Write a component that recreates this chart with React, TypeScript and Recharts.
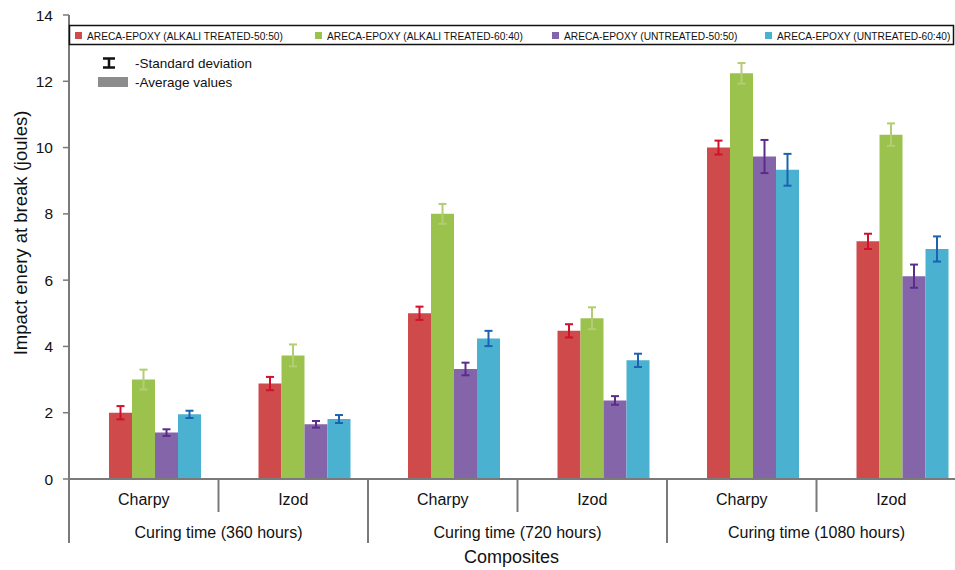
import React from 'react';
import { BarChart, Bar, XAxis, YAxis, ErrorBar, Label } from 'recharts';

// impact tests, in order along the x axis
const TESTS = ['Charpy', 'Izod', 'Charpy', 'Izod', 'Charpy', 'Izod'];
const CURING_TIMES = ['Curing time (360 hours)', 'Curing time (720 hours)', 'Curing time (1080 hours)'];

// mean impact energy (J)
const ALKALI_50 = [2.0, 2.88, 5.0, 4.47, 10.0, 7.17];
const ALKALI_60 = [3.0, 3.73, 8.0, 4.85, 12.24, 10.39];
const UNTREATED_50 = [1.4, 1.65, 3.32, 2.37, 9.73, 6.12];
const UNTREATED_60 = [1.95, 1.81, 4.24, 3.58, 9.33, 6.94];

// standard deviations
const ALKALI_50_SD = [0.2, 0.2, 0.2, 0.2, 0.21, 0.23];
const ALKALI_60_SD = [0.3, 0.33, 0.3, 0.33, 0.31, 0.34];
const UNTREATED_50_SD = [0.1, 0.1, 0.19, 0.13, 0.5, 0.35];
const UNTREATED_60_SD = [0.11, 0.12, 0.23, 0.2, 0.48, 0.38];

const Y_TICKS = [0, 2, 4, 6, 8, 10, 12, 14];

const SERIES = [
  { key: 'a50', name: 'ARECA-EPOXY (ALKALI TREATED-50:50)', values: ALKALI_50, sd: ALKALI_50_SD, fill: '#cf4a4b', err: '#d0112c' },
  { key: 'a60', name: 'ARECA-EPOXY (ALKALI TREATED-60:40)', values: ALKALI_60, sd: ALKALI_60_SD, fill: '#9cc24e', err: '#b3cd72' },
  { key: 'u50', name: 'ARECA-EPOXY (UNTREATED-50:50)', values: UNTREATED_50, sd: UNTREATED_50_SD, fill: '#8565a9', err: '#5a2d8c' },
  { key: 'u60', name: 'ARECA-EPOXY (UNTREATED-60:40)', values: UNTREATED_60, sd: UNTREATED_60_SD, fill: '#4bb1d1', err: '#1c62b0' },
];

const data = TESTS.map((test, i) => {
  const row: Record<string, string | number> = { test };
  SERIES.forEach((s) => {
    row[s.key] = s.values[i];
    row[s.key + 'Sd'] = s.sd[i];
  });
  return row;
});

const FONT = '"Liberation Sans", Arial, Helvetica, sans-serif';
const AXIS_GREY = '#7a7a7a';

const Y_AXIS_W = 69;
const PLOT_W = 897;
const BAND = PLOT_W / TESTS.length;

// two-row category axis: test name, then curing time spanning each pair
// (tick y sits 6px below the axis line)
const CategoryTick = (props: any) => {
  const { x, y, index, payload } = props;
  const top = y - 6;
  const half = BAND / 2;
  const closesGroup = index % 2 === 1;
  return (
    <g>
      <text x={x} y={top + 20} textAnchor="middle" dominantBaseline="central" fontFamily={FONT} fontSize={16} fill="#111">
        {payload.value}
      </text>
      {index === 0 && (
        <line x1={x - half} x2={x - half} y1={top} y2={top + 64} stroke={AXIS_GREY} strokeWidth={2} />
      )}
      <line x1={x + half} x2={x + half} y1={top} y2={top + (closesGroup ? 64 : 33)} stroke={AXIS_GREY} strokeWidth={2} />
      {closesGroup && (
        <text x={x - half} y={top + 53} textAnchor="middle" dominantBaseline="central" fontFamily={FONT} fontSize={16} fill="#111">
          {CURING_TIMES[(index - 1) / 2]}
        </text>
      )}
    </g>
  );
};

const LEGEND_X = [75, 315, 552, 765];

const ChartKey = () => (
  <svg width={955} height={570} style={{ position: 'absolute', left: 0, top: 0, pointerEvents: 'none' }}>
    <rect x={69.5} y={25.5} width={884} height={19} fill="#fff" stroke="#111" strokeWidth={1.5} />
    {SERIES.map((s, i) => (
      <g key={s.key}>
        <rect x={LEGEND_X[i]} y={32} width={7} height={7} fill={s.fill} />
        <text x={LEGEND_X[i] + 12} y={36} dominantBaseline="central" fontFamily={FONT} fontSize={10.2} fill="#111">
          {s.name}
        </text>
      </g>
    ))}
    {/* standard deviation glyph */}
    <path d="M103 58.5 H115 M109 58.5 V67.5 M103 67.5 H115" stroke="#111" strokeWidth={2.5} fill="none" />
    <text x={135} y={63} dominantBaseline="central" fontFamily={FONT} fontSize={13.5} fill="#111">-Standard deviation</text>
    <rect x={98} y={77} width={30} height={10} fill="#8c8c8c" />
    <text x={135} y={82} dominantBaseline="central" fontFamily={FONT} fontSize={13.5} fill="#111">-Average values</text>
  </svg>
);

export default function App() {
  return (
    <div style={{ position: 'absolute', left: 0, top: 0, width: 955, height: 570, overflow: 'hidden', background: '#fff' }}>
      <BarChart
        width={Y_AXIS_W + PLOT_W + 14}
        height={570}
        data={data}
        margin={{ top: 15, right: 14, left: 0, bottom: 0 }}
        barSize={23}
        barGap={0}
      >
        <XAxis
          dataKey="test"
          height={91}
          tickLine={false}
          tickMargin={0}
          axisLine={{ stroke: AXIS_GREY, strokeWidth: 2 }}
          tick={<CategoryTick />}
          interval={0}
        >
          <Label value="Composites" position="insideBottom" offset={7} dx={-6} fontFamily={FONT} fontSize={18} fill="#111" />
        </XAxis>
        <YAxis
          width={Y_AXIS_W}
          domain={[0, 14]}
          ticks={Y_TICKS}
          interval={0}
          tickSize={6}
          tickMargin={10}
          axisLine={{ stroke: AXIS_GREY, strokeWidth: 2 }}
          tickLine={{ stroke: AXIS_GREY, strokeWidth: 1.5 }}
          tick={{ fontFamily: FONT, fontSize: 15.5, fill: '#111' }}
        >
          <Label
            content={() => (
              <text
                x={20}
                y={233}
                transform="rotate(-90, 20, 233)"
                textAnchor="middle"
                dominantBaseline="central"
                fontFamily={FONT}
                fontSize={18.5}
                fill="#111"
              >
                Impact enery at break (joules)
              </text>
            )}
          />
        </YAxis>
        {/* empty leading slot: the bar groups sit right of the band centre */}
        <Bar dataKey="spacer" legendType="none" isAnimationActive={false} />
        {SERIES.map((s) => (
          <Bar key={s.key} dataKey={s.key} name={s.name} fill={s.fill} isAnimationActive={false}>
            <ErrorBar dataKey={s.key + 'Sd'} width={4} stroke={s.err} strokeWidth={2} direction="y" />
          </Bar>
        ))}
      </BarChart>
      <ChartKey />
    </div>
  );
}
